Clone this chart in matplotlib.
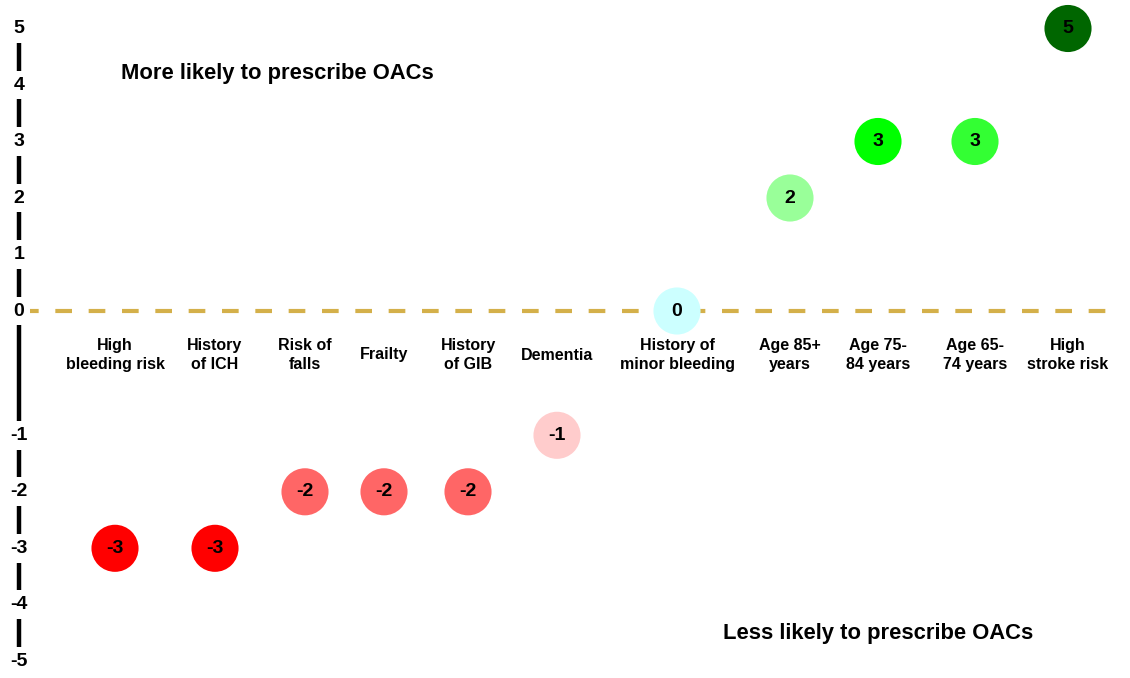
import numpy as np
import matplotlib
matplotlib.use("Agg")
import matplotlib.pyplot as plt
from matplotlib.transforms import blended_transform_factory

plt.rcParams['font.family'] = ['Liberation Sans', 'DejaVu Sans']

# ---- data ----
categories = ["High\nbleeding risk", "History\nof ICH", "Risk of\nfalls", "Frailty",
              "History\nof GIB", "Dementia", "History of\nminor bleeding",
              "Age 85+\nyears", "Age 75-\n84 years", "Age 65-\n74 years", "High\nstroke risk"]
scores = [-3, -3, -2, -2, -2, -1, 0, 2, 3, 3, 5]
colors = ["#FF0000", "#FF0000", "#FF6666", "#FF6666", "#FF6666", "#FFCCCC",
          "#CCFFFF", "#99FF99", "#00FF00", "#33FF33", "#006600"]
ytick_values = [5, 4, 3, 2, 1, 0, -1, -2, -3, -4, -5]

# ---- layout ----
xpos = [115, 215, 305, 384, 468, 557, 677, 790, 878, 975, 1068]
GAP = 1.2
UNIT = 56.5
ZERO = 311

def fwd(y):
    y = np.asarray(y, dtype=float)
    return np.where(y < 0, y - GAP, y)

def inv(p):
    p = np.asarray(p, dtype=float)
    return np.where(p < -GAP, p + GAP, np.where(p < 0, 0.0, p))

fig = plt.figure(figsize=(11.3, 6.78), dpi=100)
ax = fig.add_axes([0, 0, 1, 1])
ax.set_yscale('function', functions=(fwd, inv))
ax.set_xlim(0, 1130)
top = ZERO / UNIT
bottom = -(678 - ZERO) / UNIT + GAP
ax.set_ylim(bottom, top)
ax.axis('off')

# zero dashed line
ax.plot([22, 1118], [0, 0], color="#D4B04A", lw=3, dashes=(4, 4), zorder=1)

# y axis line
ax.plot([19, 19], [-4.85, 4.85], color="black", lw=3.2, zorder=2,
        solid_capstyle='butt')
for v in ytick_values:
    ax.text(19, v, str(v), ha='center', va='center', fontsize=14,
            fontweight='bold', zorder=3,
            bbox=dict(boxstyle='square,pad=0.3', fc='white', ec='none'))

# circles
ax.scatter(xpos, scores, s=1150, c=colors, edgecolors='none', zorder=4)
for x, s in zip(xpos, scores):
    ax.text(x, s, str(s), ha='center', va='center', fontsize=14,
            fontweight='bold', color='black', zorder=5)

# category labels
tr = blended_transform_factory(ax.transData, ax.transAxes)
for x, lab in zip(xpos, categories):
    ax.text(x, 1 - 355 / 678, lab, transform=tr, ha='center', va='center',
            fontsize=11.5, fontweight='bold', linespacing=1.3)

fig.text(277 / 1130, 1 - 74 / 678, "More likely to prescribe OACs",
         ha='center', va='center', fontsize=15.8, fontweight='bold')
fig.text(878 / 1130, 1 - 634 / 678, "Less likely to prescribe OACs",
         ha='center', va='center', fontsize=15.8, fontweight='bold')

fig.savefig("out.png", dpi=100, facecolor='white')
